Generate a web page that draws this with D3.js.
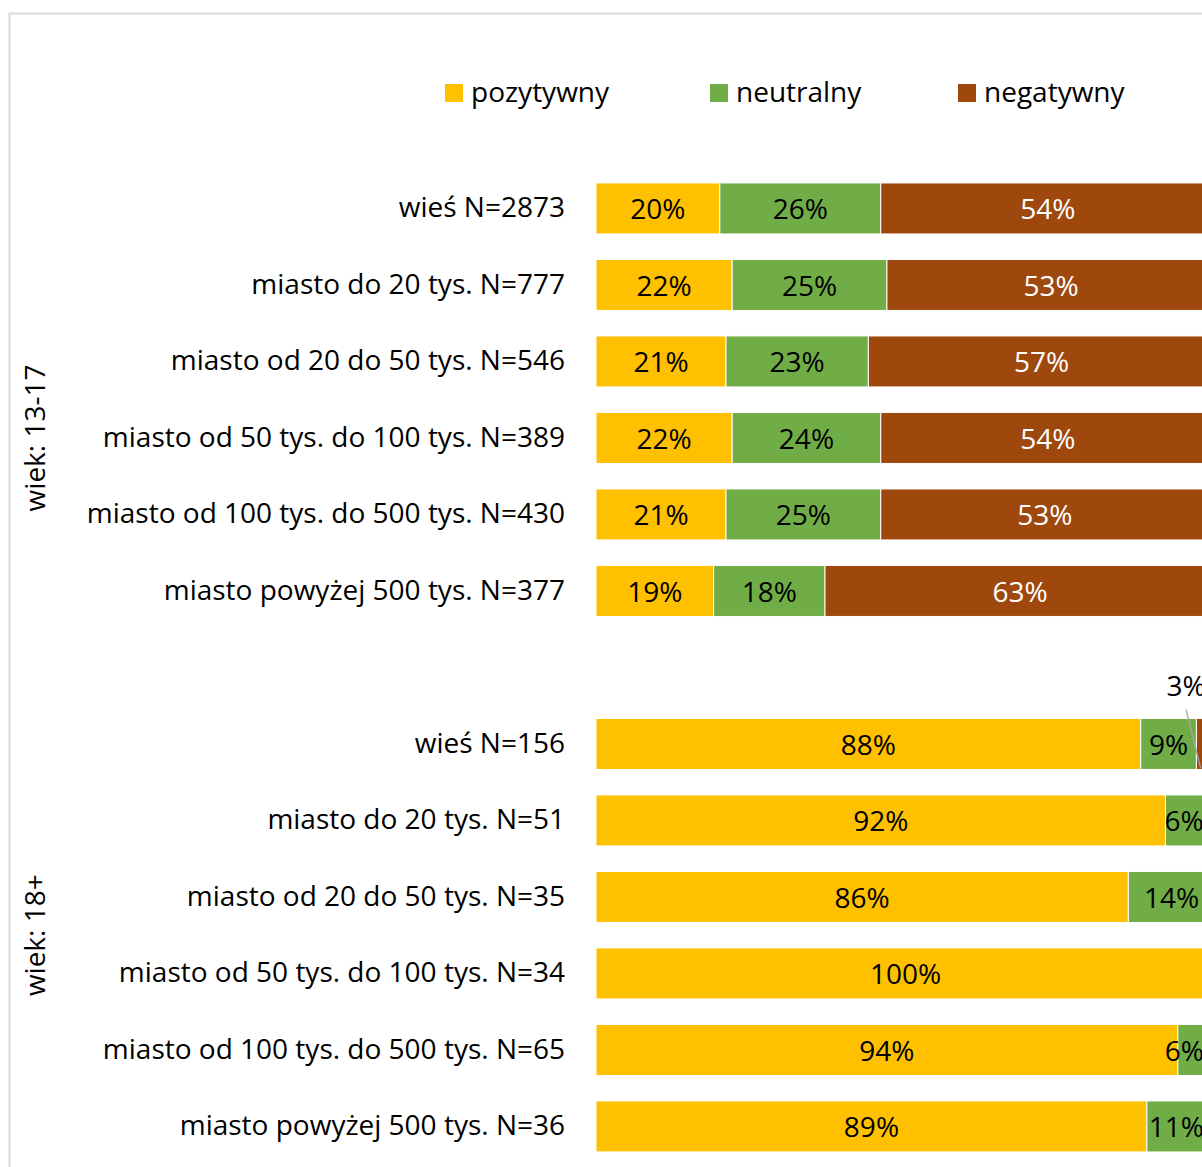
<!DOCTYPE html>
<html>
<head>
<meta charset="utf-8">
<script src="https://cdn.jsdelivr.net/npm/d3@7"></script>
<style>
  html, body { margin: 0; padding: 0; background: #fff; overflow: hidden; }
  svg text { font-family: "Open Sans", "Noto Sans", sans-serif; }
</style>
</head>
<body>
<svg id="chart" width="1202" height="1167"></svg>
<script>
// Categories per age group (an empty slot separates the two groups)
const groups = ["wiek: 13-17", "wiek: 18+"];
const categories1317 = [
  "wieś N=2873",
  "miasto do 20 tys. N=777",
  "miasto od 20 do 50 tys. N=546",
  "miasto od 50 tys. do 100 tys. N=389",
  "miasto od 100 tys. do 500 tys. N=430",
  "miasto powyżej 500 tys. N=377"
];
const categories18 = [
  "wieś N=156",
  "miasto do 20 tys. N=51",
  "miasto od 20 do 50 tys. N=35",
  "miasto od 50 tys. do 100 tys. N=34",
  "miasto od 100 tys. do 500 tys. N=65",
  "miasto powyżej 500 tys. N=36"
];
const seriesNames = ["pozytywny", "neutralny", "negatywny"];
const positive1317 = [20, 22, 21, 22, 21, 19];
const neutral1317  = [26, 25, 23, 24, 25, 18];
const negative1317 = [54, 53, 57, 54, 53, 63];
const positive18 = [88, 92, 86, 100, 94, 89];
const neutral18  = [9, 6, 14, 0, 6, 11];
const negative18 = [3, 2, 0, 0, 0, 0];

const colors = ["#FFC000", "#70AD47", "#9E480E"];
const labelColors = ["#000000", "#000000", "#FFFFFF"];

// Build rows: group 1 has its six categories plus a trailing blank slot
const rows = [];
categories1317.forEach((c, i) => rows.push({key: "a" + i, group: 0, label: c,
  values: [positive1317[i], neutral1317[i], negative1317[i]]}));
rows.push({key: "gap", group: 0, label: "", values: null});
categories18.forEach((c, i) => rows.push({key: "b" + i, group: 1, label: c,
  values: [positive18[i], neutral18[i], negative18[i]]}));

const W = 1202, H = 1167;
const FS = 28;
const svg = d3.select("#chart");
svg.append("rect").attr("width", W).attr("height", H).attr("fill", "#fff");

// Chart frame
svg.append("rect")
  .attr("x", 9.5).attr("y", 13.5)
  .attr("width", 1300).attr("height", 1300)
  .attr("fill", "none").attr("stroke", "#d9d9d9").attr("stroke-width", 2);

const x = d3.scaleLinear().domain([0, 100]).range([596, 1215]);
const y = d3.scaleBand().domain(rows.map(r => r.key))
  .range([170.2, 1164.7]).paddingInner(1/3).paddingOuter(1/6);
const bh = y.bandwidth();

const dataRows = rows.filter(r => r.values);
const stackInput = dataRows.map(r => {
  const o = {key: r.key};
  seriesNames.forEach((s, i) => o[s] = r.values[i]);
  return o;
});
const stacked = d3.stack().keys(seriesNames)(stackInput);

const clipRight = 1204;

stacked.forEach((layer, si) => {
  const g = svg.append("g");
  layer.forEach(seg => {
    const row = seg.data;
    const v = row[layer.key];
    if (!v) return;
    const x0 = x(seg[0]), x1 = x(seg[1]);
    const yy = y(row.key);
    g.append("rect")
      .attr("x", x0).attr("y", yy)
      .attr("width", x1 - x0).attr("height", bh)
      .attr("fill", colors[si])
      .attr("stroke", "#fff").attr("stroke-width", 1);
    if (x0 >= W - 4) return; // segment lies past the visible area
    const isSmallNeg = si === 2 && v < 5;
    if (isSmallNeg) {
      // small slice: label above the bar with a leader line
      const cx = (x0 + x1) / 2;
      svg.append("line")
        .attr("x1", 1186).attr("y1", yy - 9)
        .attr("x2", cx - 5).attr("y2", yy + bh - 1)
        .attr("stroke", "#a6a6a6").attr("stroke-width", 1.3);
      svg.append("text")
        .attr("x", 1186).attr("y", yy - 22)
        .attr("text-anchor", "middle")
        .attr("font-size", FS).attr("fill", "#000")
        .text(v + "%");
      return;
    }
    const t = svg.append("text")
      .attr("y", yy + bh / 2 + 11)
      .attr("text-anchor", "middle")
      .attr("font-size", FS)
      .attr("fill", labelColors[si])
      .text(v + "%");
    const w = t.node().getComputedTextLength();
    let cx = (x0 + Math.min(x1, x(100))) / 2;
    if (cx + w / 2 > clipRight) cx = clipRight - w / 2;
    t.attr("x", cx);
  });
});

// Category labels
svg.append("g").selectAll("text").data(dataRows).join("text")
  .attr("x", 565)
  .attr("y", d => y(d.key) + bh / 2 + 9)
  .attr("text-anchor", "end")
  .attr("font-size", FS)
  .attr("fill", "#000")
  .text(d => d.label);

// Group labels (rotated)
groups.forEach((gName, gi) => {
  const keys = rows.filter(r => r.group === gi).map(r => r.key);
  const top = y(keys[0]);
  const bottom = y(keys[keys.length - 1]) + bh;
  const cy = (top + bottom) / 2;
  svg.append("text")
    .attr("transform", `translate(45,${cy}) rotate(-90)`)
    .attr("text-anchor", "middle")
    .attr("font-size", FS)
    .attr("fill", "#000")
    .text(gName);
});

// Legend
const legendX = [445, 710, 958];
const legend = svg.append("g");
seriesNames.forEach((s, i) => {
  legend.append("rect")
    .attr("x", legendX[i]).attr("y", 84)
    .attr("width", 18).attr("height", 18)
    .attr("fill", colors[i]);
  legend.append("text")
    .attr("x", legendX[i] + 26).attr("y", 102)
    .attr("font-size", FS).attr("fill", "#000")
    .text(s);
});
</script>
</body>
</html>
